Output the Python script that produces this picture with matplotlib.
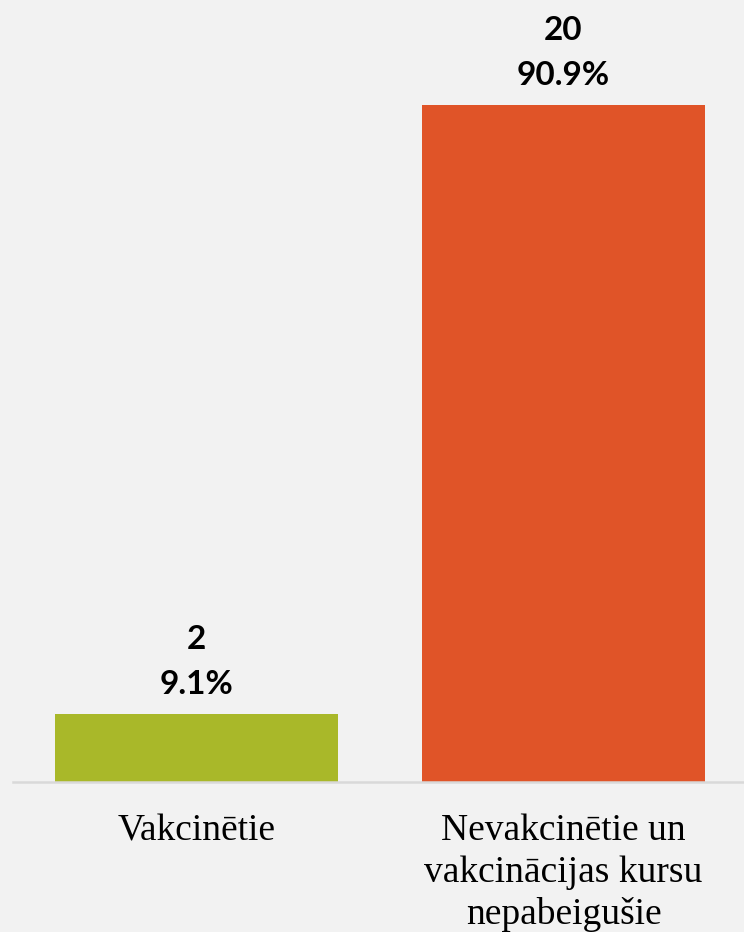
import matplotlib
matplotlib.use("Agg")
import matplotlib.pyplot as plt

categories = ["Vakcinētie", "Nevakcinētie un\nvakcinācijas kursu\nnepabeigušie"]
counts = [2, 20]
percents = ["9.1%", "90.9%"]
colors = ["#A9B829", "#E05428"]

bg = "#F2F2F2"
fig = plt.figure(figsize=(7.44, 9.32), dpi=100, facecolor=bg)
ax = fig.add_axes([13/744, 1-782/932, 734/744, 782/932])
ax.set_facecolor(bg)

x = list(range(len(categories)))
bars = ax.bar(x, counts, width=0.771, color=colors, zorder=2)
ax.set_xlim(-0.5, 1.5)
ax.set_ylim(0, 23.1)

for xi, c, p in zip(x, counts, percents):
    ax.annotate(f"{c}\n{p}", xy=(xi, c), xytext=(0, 11), textcoords="offset points",
                ha="center", va="bottom", fontsize=24, fontweight="bold",
                family=["Lato", "DejaVu Sans"], linespacing=1.65, color="black")

ax.set_xticks(x)
ax.set_xticklabels(categories, fontsize=27, family=["Liberation Serif"], linespacing=1.27)
ax.tick_params(axis="x", length=0, pad=23)
ax.set_yticks([])
for s in ["top", "right", "left"]:
    ax.spines[s].set_visible(False)
ax.spines["bottom"].set_color("#D9D9D9")
ax.spines["bottom"].set_linewidth(1.8)

fig.savefig("out.png", dpi=100, facecolor=bg)
